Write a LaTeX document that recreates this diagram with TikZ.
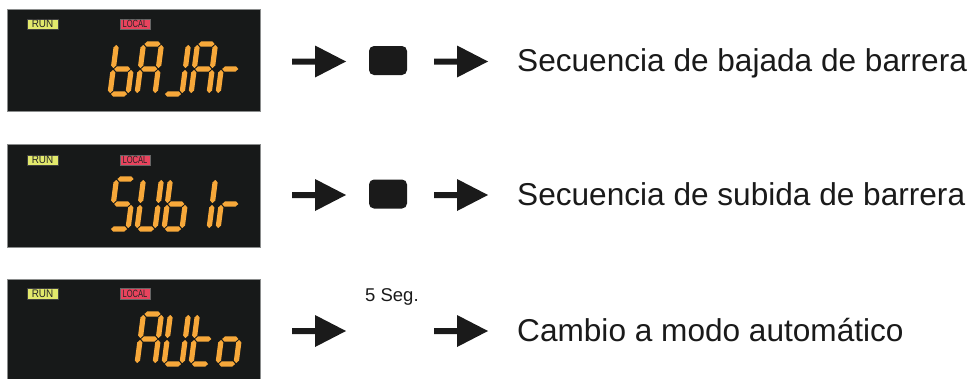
\documentclass[tikz,border=0pt]{standalone}
\usepackage{fontspec}
\setmainfont{Liberation Sans}
\definecolor{dispbg}{HTML}{171919}
\definecolor{dispedge}{HTML}{8A8C8C}
\definecolor{segcol}{HTML}{F7A83A}
\definecolor{runcol}{HTML}{E2E96C}
\definecolor{loccol}{HTML}{E8435D}
\definecolor{ink}{HTML}{1A1A1A}
\newcommand\hsegment[3]{\fill[segcol] ({#1+0.9},#3) -- ({#1+3.5},{#3-2.6}) -- ({#2-3.5},{#3-2.6}) -- ({#2-0.9},#3) -- ({#2-3.5},{#3+2.6}) -- ({#1+3.5},{#3+2.6}) -- cycle;}
\newcommand\vsegment[3]{\fill[segcol] (#1,{#2+0.9}) -- ({#1+2.6},{#2+3.5}) -- ({#1+2.6},{#3-3.5}) -- (#1,{#3-0.9}) -- ({#1-2.6},{#3-3.5}) -- ({#1-2.6},{#2+3.5}) -- cycle;}
\newcommand\segXa{\hsegment{0}{18}{-50}}
\newcommand\segXb{\vsegment{18}{-50}{-25}}
\newcommand\segXc{\vsegment{18}{-25}{0}}
\newcommand\segXd{\hsegment{0}{18}{0}}
\newcommand\segXe{\vsegment{0}{-25}{0}}
\newcommand\segXf{\vsegment{0}{-50}{-25}}
\newcommand\segXg{\hsegment{0}{18}{-25}}
\newcommand\sevseg[3]{\begin{scope}[shift={(#1,#2)},xslant=0.13]\foreach \s in {#3}{\csname segX\s\endcsname}\end{scope}}
\newcommand\fatarrow[2]{\fill[ink] (#1,{#2-3}) -- ({#1+23},{#2-3}) -- ({#1+23},{#2-16}) -- ({#1+54},#2) -- ({#1+23},{#2+16}) -- ({#1+23},{#2+3}) -- (#1,{#2+3}) -- cycle;}
\tikzset{
  display/.style={fill=dispbg, draw=dispedge, line width=0.7pt},
  runlabel/.style={fill=runcol, draw=black!75, line width=0.5pt, inner sep=0pt, minimum width=31pt, minimum height=10.5pt, font=\fontsize{11}{11}\selectfont, text=black!85},
  loclabel/.style={fill=loccol, draw=black!60, line width=0.5pt, inner sep=0pt, minimum width=30pt, minimum height=10.5pt, font=\fontsize{10.5}{10.5}\selectfont, text=black!85},
  button/.style={fill=ink, rounded corners=5pt, minimum width=38pt, minimum height=29pt, inner sep=0pt},
  maintext/.style={anchor=base west, inner sep=0pt, font=\fontsize{31.6}{32}\selectfont, text=ink},
  smalltext/.style={anchor=base west, inner sep=0pt, font=\fontsize{18.5}{19}\selectfont, text=ink}
}
\begin{document}
\begin{tikzpicture}[x=1pt,y=-1pt]
\useasboundingbox (0,0) rectangle (973,378);
% displays
\filldraw[display] (7,9) rectangle (260,111);
\filldraw[display] (7,144) rectangle (260,247);
\fill[dispbg] (7,279) rectangle (260,380);
\draw[dispedge, line width=0.7pt] (7,380) -- (7,279) -- (260,279) -- (260,380);
% labels
\node[runlabel] (run1) at (42.5,24) {\scalebox{0.9}[1]{RUN}};
\node[loclabel] (loc1) at (135,24) {\scalebox{0.72}[1]{LOCAL}};
\node[runlabel] (run2) at (42.5,160) {\scalebox{0.9}[1]{RUN}};
\node[loclabel] (loc2) at (135,160) {\scalebox{0.72}[1]{LOCAL}};
\node[runlabel] (run3) at (42.5,293.5) {\scalebox{0.9}[1]{RUN}};
\node[loclabel] (loc3) at (135,293.5) {\scalebox{0.72}[1]{LOCAL}};
% bAJAr
\sevseg{110}{94}{c,d,e,f,g}
\sevseg{137}{94}{a,b,c,e,f,g}
\sevseg{164}{94}{b,c,d}
\sevseg{191}{94}{a,b,c,e,f,g}
\sevseg{218}{94}{e,g}
% 5Ub1r
\sevseg{110}{229}{a,f,g,c,d}
\sevseg{137}{229}{b,c,d,e,f}
\sevseg{164}{229}{c,d,e,f,g}
\sevseg{191}{229}{b,c}
\sevseg{218}{229}{e,g}
% AUto
\sevseg{137}{364}{a,b,c,e,f,g}
\sevseg{164}{364}{b,c,d,e,f}
\sevseg{191}{364}{d,e,f,g}
\sevseg{218}{364}{c,d,e,g}
% row 1
\fatarrow{292}{61.5}
\node[button] (btn1) at (388,60.5) {};
\fatarrow{434}{61.5}
\node[maintext] (txt1) at (517,71.7) {Secuencia de bajada de barrera};
% row 2
\fatarrow{292}{195}
\node[button] (btn2) at (388,194) {};
\fatarrow{434}{195}
\node[maintext] (txt2) at (517,205.2) {Secuencia de subida de barrera};
% row 3
\fatarrow{292}{331}
\node[smalltext] (seg3) at (365,301) {5 Seg.};
\fatarrow{434}{331}
\node[maintext] (txt3) at (517,341.5) {Cambio a modo automático};
\end{tikzpicture}
\end{document}
